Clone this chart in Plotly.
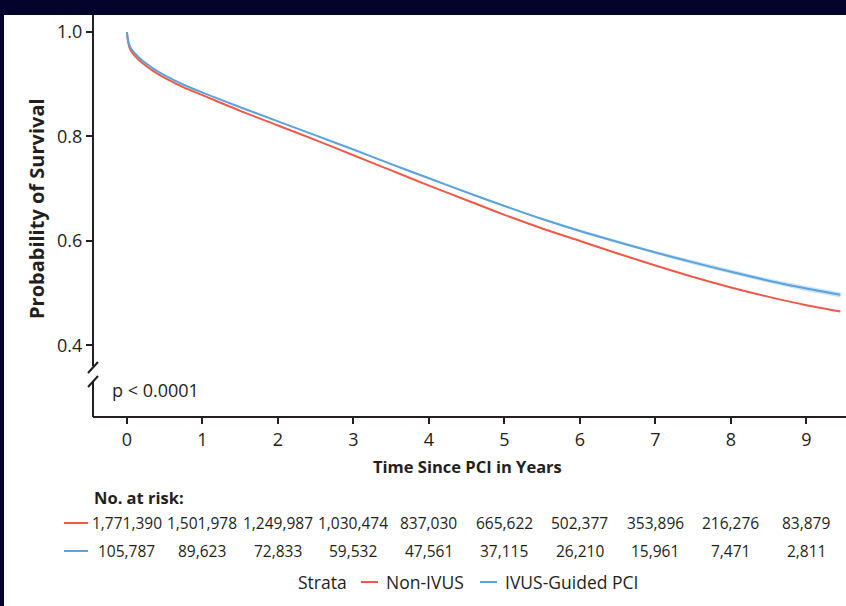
import plotly.graph_objects as go

# ---------------- data ----------------
years = [0, 0.01, 0.03, 0.06, 0.1, 0.2, 0.35, 0.5, 0.75, 1, 1.5, 2, 2.5, 3, 3.5, 4, 4.5, 5,
         5.5, 6, 6.5, 7, 7.5, 8, 8.5, 9, 9.45]
non_ivus = [1.0, 0.985, 0.972, 0.962, 0.955, 0.941, 0.925, 0.912, 0.894, 0.879, 0.849, 0.821,
            0.793, 0.764, 0.735, 0.706, 0.678, 0.650, 0.624, 0.600, 0.576, 0.553, 0.531, 0.511,
            0.493, 0.477, 0.465]
ivus = [1.0, 0.988, 0.976, 0.967, 0.960, 0.946, 0.930, 0.917, 0.899, 0.884, 0.856, 0.829,
        0.802, 0.775, 0.747, 0.720, 0.693, 0.667, 0.642, 0.619, 0.598, 0.578, 0.559, 0.541,
        0.524, 0.509, 0.497]
ivus_lo = [1.0, 0.987, 0.975, 0.966, 0.959, 0.945, 0.929, 0.916, 0.898, 0.883, 0.855, 0.828,
           0.801, 0.774, 0.746, 0.719, 0.691, 0.665, 0.640, 0.616, 0.595, 0.575, 0.555, 0.537,
           0.520, 0.504, 0.492]
ivus_hi = [1.0, 0.989, 0.977, 0.968, 0.961, 0.947, 0.931, 0.918, 0.900, 0.885, 0.857, 0.830,
           0.803, 0.776, 0.748, 0.721, 0.695, 0.669, 0.644, 0.622, 0.601, 0.581, 0.563, 0.545,
           0.528, 0.514, 0.502]

x_ticks = [0, 1, 2, 3, 4, 5, 6, 7, 8, 9]
y_ticks = [0.4, 0.6, 0.8, 1.0]
risk_non_ivus = ["1,771,390", "1,501,978", "1,249,987", "1,030,474", "837,030", "665,622",
                 "502,377", "353,896", "216,276", "83,879"]
risk_ivus = ["105,787", "89,623", "72,833", "59,532", "47,561", "37,115", "26,210",
             "15,961", "7,471", "2,811"]
series_names = ["Non-IVUS", "IVUS-Guided PCI"]

RED = "#ef5a48"
BLUE = "#5aa3dc"
INK = "#231f20"
NAVY = "#03032b"
FONT = "Open Sans"

fig = go.Figure()
fig.add_trace(go.Scatter(x=years, y=ivus_hi, mode="lines", line=dict(width=0),
                         showlegend=False, hoverinfo="skip"))
fig.add_trace(go.Scatter(x=years, y=ivus_lo, mode="lines", line=dict(width=0),
                         fill="tonexty", fillcolor="rgba(90,163,220,0.3)",
                         showlegend=False, hoverinfo="skip"))
fig.add_trace(go.Scatter(x=years, y=non_ivus, mode="lines", name=series_names[0],
                         line=dict(color=RED, width=2, shape="spline", smoothing=0.8),
                         showlegend=False))
fig.add_trace(go.Scatter(x=years, y=ivus, mode="lines", name=series_names[1],
                         line=dict(color=BLUE, width=2, shape="spline", smoothing=0.8),
                         showlegend=False))

# pixel helpers for paper coords (plot area: x 93..846, y 15..416)
def px(xp):
    return (xp - 93) / 753.0

def py(yp):
    return (416 - yp) / 401.0

shapes = []
shapes.append(dict(type="rect", xref="paper", yref="paper", x0=px(4), x1=px(900),
                   y0=py(700), y1=py(15), fillcolor="white", line=dict(width=0), layer="below"))
shapes.append(dict(type="line", xref="paper", yref="paper", x0=px(93), x1=px(93),
                   y0=py(15), y1=py(366), line=dict(color=INK, width=2)))
shapes.append(dict(type="line", xref="paper", yref="paper", x0=px(93), x1=px(93),
                   y0=py(382), y1=py(417), line=dict(color=INK, width=2)))
shapes.append(dict(type="line", xref="paper", yref="paper", x0=px(88), x1=px(98),
                   y0=py(373), y1=py(362), line=dict(color=INK, width=2)))
shapes.append(dict(type="line", xref="paper", yref="paper", x0=px(88), x1=px(98),
                   y0=py(387), y1=py(376), line=dict(color=INK, width=2)))
shapes.append(dict(type="line", xref="paper", yref="paper", x0=px(64), x1=px(88),
                   y0=py(523), y1=py(523), line=dict(color=RED, width=2)))
shapes.append(dict(type="line", xref="paper", yref="paper", x0=px(64), x1=px(88),
                   y0=py(551), y1=py(551), line=dict(color=BLUE, width=2)))
shapes.append(dict(type="line", xref="paper", yref="paper", x0=px(361), x1=px(378),
                   y0=py(582), y1=py(582), line=dict(color=RED, width=2)))
shapes.append(dict(type="line", xref="paper", yref="paper", x0=px(480), x1=px(497),
                   y0=py(582), y1=py(582), line=dict(color=BLUE, width=2)))

ann = []
ann.append(dict(text="<b>Probability of Survival</b>", xref="paper", yref="paper", x=px(37),
                y=py(209), textangle=-90, showarrow=False,
                font=dict(family=FONT, size=20, color=INK),
                xanchor="center", yanchor="middle"))
ann.append(dict(text="<b>Time Since PCI in Years</b>", xref="paper", yref="paper", x=px(467),
                y=py(466), showarrow=False, font=dict(family=FONT, size=16.5, color=INK),
                xanchor="center", yanchor="middle"))
ann.append(dict(text="p < 0.0001", xref="paper", yref="paper", x=px(110), y=py(390),
                showarrow=False, font=dict(family=FONT, size=18, color=INK),
                xanchor="left", yanchor="middle"))
ann.append(dict(text="<b>No. at risk:</b>", xref="paper", yref="paper", x=px(92), y=py(497),
                showarrow=False, font=dict(family=FONT, size=16.5, color=INK),
                xanchor="left", yanchor="middle"))
for t, a, b in zip(x_ticks, risk_non_ivus, risk_ivus):
    ann.append(dict(text=a, xref="x", yref="paper", x=t, y=py(523), showarrow=False,
                    font=dict(family=FONT, size=15.5, color=INK), xanchor="center", yanchor="middle"))
    ann.append(dict(text=b, xref="x", yref="paper", x=t, y=py(551), showarrow=False,
                    font=dict(family=FONT, size=15.5, color=INK), xanchor="center", yanchor="middle"))
ann.append(dict(text="Strata", xref="paper", yref="paper", x=px(296), y=py(582), showarrow=False,
                font=dict(family=FONT, size=17.5, color=INK), xanchor="left", yanchor="middle"))
ann.append(dict(text=series_names[0], xref="paper", yref="paper", x=px(384), y=py(582),
                showarrow=False, font=dict(family=FONT, size=17.5, color=INK),
                xanchor="left", yanchor="middle"))
ann.append(dict(text=series_names[1], xref="paper", yref="paper", x=px(503), y=py(582),
                showarrow=False, font=dict(family=FONT, size=17.5, color=INK),
                xanchor="left", yanchor="middle"))

fig.update_layout(
    width=846, height=606,
    margin=dict(l=93, r=0, t=15, b=190),
    paper_bgcolor=NAVY, plot_bgcolor="white",
    shapes=shapes, annotations=ann,
    showlegend=False,
    font=dict(family=FONT, size=16, color=INK),
    xaxis=dict(range=[-0.450, 9.524], tickvals=x_ticks, ticktext=[str(v) for v in x_ticks],
               showline=True, linecolor=INK, linewidth=2, ticks="outside", ticklen=6,
               tickwidth=2, tickcolor=INK, showgrid=False, zeroline=False,
               tickfont=dict(family=FONT, size=18, color=INK)),
    yaxis=dict(range=[0.2650, 1.0325], tickvals=y_ticks, ticktext=["0.4", "0.6", "0.8", "1.0"],
               showline=False, ticks="outside", ticklen=6, tickwidth=2, tickcolor=INK,
               showgrid=False, zeroline=False,
               tickfont=dict(family=FONT, size=18, color=INK)),
)

fig.write_html("out.html", config={"displayModeBar": False},
               post_script="document.body.style.margin='0';document.body.style.overflow='hidden';")
